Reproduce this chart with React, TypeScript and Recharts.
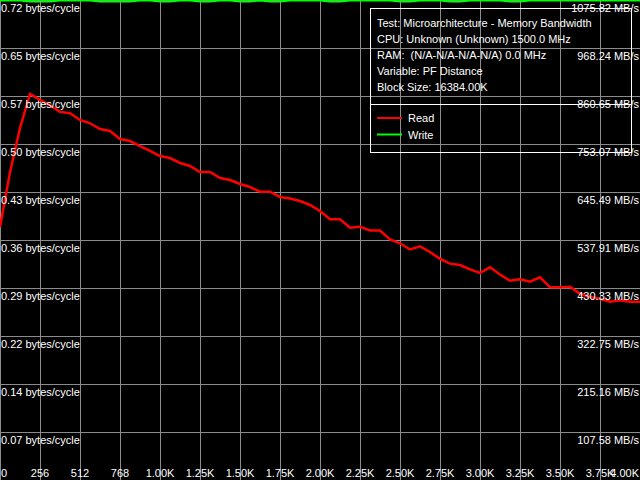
import React from "react";
import { LineChart, Line, XAxis, YAxis, CartesianGrid, Legend } from "recharts";

const xValues = [
  0, 64, 128, 192, 256, 320, 384, 448, 512, 576, 640, 704, 768, 832, 896, 960,
  1024, 1088, 1152, 1216, 1280, 1344, 1408, 1472, 1536, 1600, 1664, 1728, 1792, 1856, 1920, 1984,
  2048, 2112, 2176, 2240, 2304, 2368, 2432, 2496, 2560, 2624, 2688, 2752, 2816, 2880, 2944, 3008,
  3072, 3136, 3200, 3264, 3328, 3392, 3456, 3520, 3584, 3648, 3712, 3776, 3840, 3904, 3968, 4032, 4096,
];

const readValues = [
  0.378, 0.46, 0.526, 0.577, 0.568, 0.56, 0.55, 0.548, 0.538, 0.533, 0.5245, 0.5215, 0.5095, 0.5065, 0.499, 0.4916,
  0.4841, 0.4811, 0.4737, 0.4692, 0.4602, 0.4602, 0.4512, 0.4483, 0.4423, 0.4378, 0.4308, 0.4308, 0.4229, 0.4206, 0.4169, 0.4109,
  0.4019, 0.3895, 0.3895, 0.377, 0.3785, 0.3728, 0.3728, 0.3594, 0.3537, 0.3444, 0.3492, 0.3407, 0.3305, 0.3233, 0.3212, 0.3148,
  0.3093, 0.3178, 0.3071, 0.2978, 0.3, 0.2963, 0.3029, 0.2879, 0.2879, 0.2888, 0.2782, 0.2734, 0.2707, 0.2664, 0.2685, 0.2664, 0.2664,
];

const writeValues = [
  0.7165, 0.7165, 0.7165, 0.715, 0.715, 0.715, 0.7165, 0.7165, 0.7165, 0.7165, 0.715, 0.715, 0.715, 0.715, 0.7165, 0.7165,
  0.715, 0.715, 0.7165, 0.7165, 0.715, 0.715, 0.7165, 0.7165, 0.715, 0.715, 0.7165, 0.715, 0.715, 0.7165, 0.7165, 0.7165,
  0.7165, 0.715, 0.715, 0.7165, 0.7165, 0.7165, 0.7165, 0.7165, 0.715, 0.715, 0.7165, 0.7165, 0.7165, 0.715, 0.715, 0.7165,
  0.7165, 0.7165, 0.7165, 0.715, 0.715, 0.7165, 0.7165, 0.7165, 0.7165, 0.7165, 0.7165, 0.7165, 0.7165, 0.7165, 0.7165, 0.7165, 0.7165,
];

const xTicks = [0, 256, 512, 768, 1024, 1280, 1536, 1792, 2048, 2304, 2560, 2816, 3072, 3328, 3584, 3840, 4096];
const xTickLabels = ["0", "256", "512", "768", "1.00K", "1.25K", "1.50K", "1.75K", "2.00K", "2.25K", "2.50K", "2.75K", "3.00K", "3.25K", "3.50K", "3.75K", "4.00K"];

const leftTicks = [0.07172, 0.14344, 0.21516, 0.28688, 0.3586, 0.43032, 0.50204, 0.57376, 0.64548, 0.7172];
const leftTickLabels = [
  "0.07 bytes/cycle", "0.14 bytes/cycle", "0.22 bytes/cycle", "0.29 bytes/cycle", "0.36 bytes/cycle",
  "0.43 bytes/cycle", "0.50 bytes/cycle", "0.57 bytes/cycle", "0.65 bytes/cycle", "0.72 bytes/cycle",
];
const leftMax = 0.7172;

// Secondary scale (MB/s) shares the same gridlines as the bytes/cycle scale
const rightTickLabels = [
  "107.58 MB/s", "215.16 MB/s", "322.75 MB/s", "430.33 MB/s", "537.91 MB/s",
  "645.49 MB/s", "753.07 MB/s", "860.65 MB/s", "968.24 MB/s", "1075.82 MB/s",
];

const infoLines = [
  "Test: Microarchitecture - Memory Bandwidth",
  "CPU: Unknown (Unknown) 1500.0 MHz",
  "RAM:  (N/A-N/A-N/A-N/A) 0.0 MHz",
  "Variable: PF Distance",
  "Block Size: 16384.00K",
];

const seriesNames = ["Read", "Write"];
const seriesColors = ["#ff0000", "#00ff00"];

const data = xValues.map((x, i) => ({ x, read: readValues[i], write: writeValues[i] }));

const FONT = "'Liberation Sans', Arial, sans-serif";

const XTick = (props: any) => {
  const { x, payload, index } = props;
  const label = xTickLabels[xTicks.indexOf(payload.value)] ?? "";
  const last = xTicks.length - 1;
  const anchor = index === 0 ? "start" : index === last ? "end" : "middle";
  const tx = index === 0 ? x + 1 : index === last ? x - 1 : x;
  return (
    <text x={tx} y={477} textAnchor={anchor} fill="#ffffff" fontSize={11} fontFamily={FONT}>
      {label}
    </text>
  );
};

const YTick = (props: any) => {
  const { y, payload } = props;
  const i = leftTicks.indexOf(payload.value);
  const left = leftTickLabels[i] ?? "";
  const right = rightTickLabels[i] ?? "";
  return (
    <g>
      <text x={1} y={y + 12} textAnchor="start" fill="#ffffff" fontSize={11} fontFamily={FONT}>
        {left}
      </text>
      <text x={639} y={y + 12} textAnchor="end" fill="#ffffff" fontSize={11} fontFamily={FONT}>
        {right}
      </text>
    </g>
  );
};

const InfoLegend = (props: any) => {
  const payload = props.payload || [];
  return (
    <svg width={264} height={146} style={{ display: "block", overflow: "visible" }}>
      <rect x={1.5} y={0.5} width={261} height={144} fill="none" stroke="#ffffff" strokeWidth={1} />
      <line x1={1.5} y1={96.5} x2={262.5} y2={96.5} stroke="#ffffff" strokeWidth={1} />
      {infoLines.map((t, i) => (
        <text key={t} x={8} y={19 + i * 16} fill="#ffffff" fontSize={11} fontFamily={FONT} style={{ whiteSpace: "pre" }}>
          {t}
        </text>
      ))}
      {payload.map((p: any, i: number) => (
        <g key={p.value}>
          <line x1={8} y1={110 + i * 16.5} x2={33} y2={110 + i * 16.5} stroke={p.color} strokeWidth={2} />
          <text x={39} y={114 + i * 16.5} fill="#ffffff" fontSize={11} fontFamily={FONT}>
            {p.value}
          </text>
        </g>
      ))}
    </svg>
  );
};

export default function App() {
  return (
    <div style={{ position: "fixed", left: 0, top: 0, width: 640, height: 480, background: "#000000" }}>
      <style>{`.recharts-cartesian-grid line { shape-rendering: crispEdges; }`}</style>
      <LineChart width={640} height={480} data={data} margin={{ top: 0, right: 0, bottom: 0, left: 0 }}>
        <CartesianGrid yAxisId="left" stroke="#8c8c8c" strokeWidth={1} horizontalValues={[0, ...leftTicks]} verticalValues={xTicks} />
        <Line
          yAxisId="left"
          type="linear"
          dataKey="read"
          name={seriesNames[0]}
          stroke={seriesColors[0]}
          strokeWidth={2.5}
          dot={false}
          activeDot={false}
          isAnimationActive={false}
        />
        <Line
          yAxisId="left"
          type="linear"
          dataKey="write"
          name={seriesNames[1]}
          stroke={seriesColors[1]}
          strokeWidth={2}
          dot={false}
          activeDot={false}
          isAnimationActive={false}
        />
        <XAxis
          dataKey="x"
          type="number"
          domain={[0, 4096]}
          ticks={xTicks}
          mirror
          height={30}
          tickSize={0}
          tickMargin={0}
          axisLine={false}
          tickLine={false}
          interval={0}
          tick={<XTick />}
        />
        <YAxis
          yAxisId="left"
          orientation="left"
          domain={[0, leftMax]}
          ticks={leftTicks}
          mirror
          width={100}
          tickSize={0}
          tickMargin={0}
          axisLine={false}
          tickLine={false}
          interval={0}
          tick={<YTick />}
        />
        <Legend
          layout="vertical"
          align="center"
          verticalAlign="middle"
          content={<InfoLegend />}
          wrapperStyle={{ position: "absolute", left: 369, top: 8, width: 264, height: 146 }}
        />
      </LineChart>
    </div>
  );
}
